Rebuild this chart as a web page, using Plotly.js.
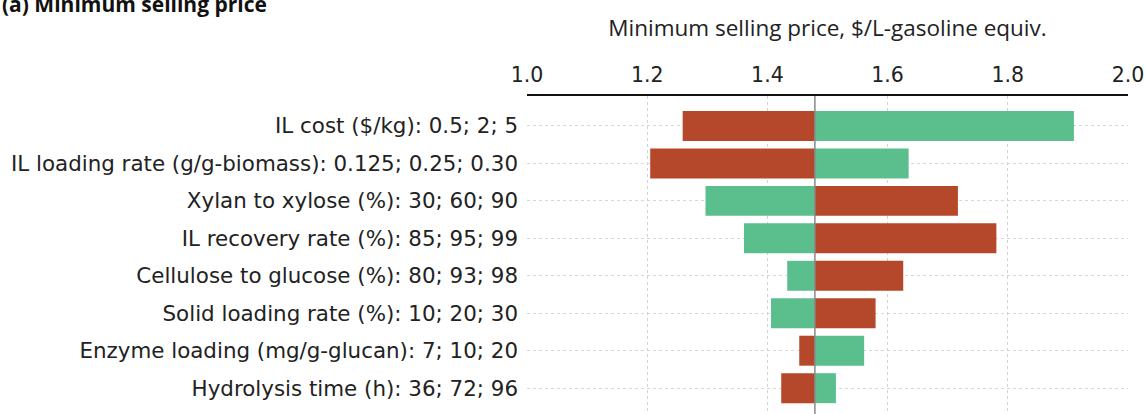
<!DOCTYPE html>
<html>
<head>
<meta charset="utf-8">
<script src="https://cdn.plot.ly/plotly-3.0.1.min.js"></script>
<style>
html,body{margin:0;padding:0;background:#fff;}
#chart{width:1145px;height:414px;}
</style>
</head>
<body>
<div id="chart"></div>
<script>
// Parameters (top to bottom)
const parameters = [
  "IL cost ($/kg): 0.5; 2; 5",
  "IL loading rate (g/g-biomass): 0.125; 0.25; 0.30",
  "Xylan to xylose (%): 30; 60; 90",
  "IL recovery rate (%): 85; 95; 99",
  "Cellulose to glucose (%): 80; 93; 98",
  "Solid loading rate (%): 10; 20; 30",
  "Enzyme loading (mg/g-glucan): 7; 10; 20",
  "Hydrolysis time (h): 36; 72; 96"
];
// Baseline minimum selling price ($/L-gasoline equiv.)
const baselineMSP = 1.479;
// MSP at the low parameter value (red) and at the high parameter value (green)
const lowValueMSP  = [1.259, 1.205, 1.717, 1.781, 1.626, 1.580, 1.453, 1.423];
const highValueMSP = [1.910, 1.635, 1.297, 1.361, 1.433, 1.406, 1.561, 1.514];
const xTicks = [1.0, 1.2, 1.4, 1.6, 1.8, 2.0];
const xTickLabels = ["1.0", "1.2", "1.4", "1.6", "1.8", "2.0"];

const red = "#B5482B";
const green = "#5BBF8D";

const traces = [
  {
    type: "bar", orientation: "h",
    y: parameters,
    x: lowValueMSP.map(v => v - baselineMSP),
    base: baselineMSP,
    width: 0.8,
    marker: {color: red, line: {width: 0}},
    hoverinfo: "skip",
    showlegend: false
  },
  {
    type: "bar", orientation: "h",
    y: parameters,
    x: highValueMSP.map(v => v - baselineMSP),
    base: baselineMSP,
    width: 0.8,
    marker: {color: green, line: {width: 0}},
    hoverinfo: "skip",
    showlegend: false
  }
];

const layout = {
  width: 1145, height: 414,
  margin: {l: 527, r: 17, t: 96, b: 0, pad: 0},
  paper_bgcolor: "#fff", plot_bgcolor: "#fff",
  barmode: "overlay",
  showlegend: false,
  xaxis: {
    side: "top",
    range: [1.0, 2.0],
    tickvals: xTicks, ticktext: xTickLabels,
    tickfont: {family: "DejaVu Sans", size: 20.5, color: "#222"},
    ticks: "", ticklabelstandoff: 4,
    showgrid: true, gridcolor: "#d2d2d2", gridwidth: 1, griddash: "dot",
    showline: true, linecolor: "#111", linewidth: 2,
    zeroline: false,
    title: {text: "Minimum selling price, $/L-gasoline equiv.", font: {family: "Open Sans", size: 22.5, color: "#222"}, standoff: 20}
  },
  yaxis: {
    type: "category",
    categoryorder: "array", categoryarray: parameters,
    range: [7.69, -0.80],
    tickfont: {family: "DejaVu Sans", size: 21.4, color: "#222"},
    ticks: "", ticklabelstandoff: 8,
    showgrid: true, gridcolor: "#d8d8d8", gridwidth: 1, griddash: "dot",
    showline: false, zeroline: false
  },
  shapes: [
    {type: "line", xref: "x", yref: "paper", x0: baselineMSP, x1: baselineMSP, y0: 0, y1: 1,
     line: {color: "#888", width: 1.5}, layer: "above"}
  ],
  annotations: [
    {text: "<b>(a) Minimum selling price</b>", xref: "paper", yref: "paper",
     x: -527/601, xanchor: "left", y: 1 + 92/318, yanchor: "middle",
     showarrow: false, font: {family: "Open Sans", size: 21, color: "#111"}}
  ]
};

Plotly.newPlot("chart", traces, layout, {displayModeBar: false, staticPlot: true});
</script>
</body>
</html>
